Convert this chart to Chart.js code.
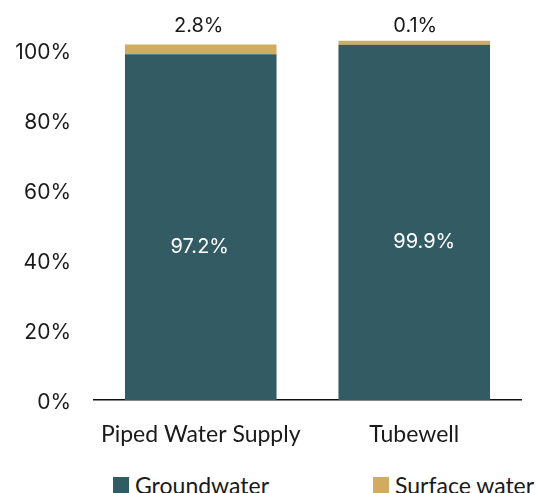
<!DOCTYPE html>
<html>
<head>
<meta charset="utf-8">
<script src="https://cdn.jsdelivr.net/npm/chart.js@4"></script>
<style>
  body { margin: 0; background: #fff; }
  #wrap { position: relative; width: 537px; height: 493px; }
  #box { position: absolute; left: 0; top: 0; width: 537px; height: 462px; }
  #legend {
    position: absolute; left: 113px; top: 473px; height: 24px;
    display: flex; align-items: center; gap: 104px;
    font-family: Lato, sans-serif; font-size: 23px; color: #1a1a1a;
  }
  #legend .item { display: flex; align-items: center; gap: 6px; line-height: 24px; }
  #legend .swatch { width: 16px; height: 16px; display: inline-block; }
</style>
</head>
<body>
<div id="wrap">
  <div id="box"><canvas id="chart"></canvas></div>
  <div id="legend"></div>
</div>
<script>
// water source by supply type (percent)
const sources = ['Piped Water Supply', 'Tubewell'];
const groundwater = [97.2, 99.9];
const surfaceWater = [2.8, 0.1];
const yTicks = [0, 20, 40, 60, 80, 100];

const seriesNames = ['Groundwater', 'Surface water'];
const seriesColors = ['#325B63', '#D1AB5E'];

const numFont = { family: 'Inter, "Open Sans", sans-serif', size: 20 };
const tickFont = { family: 'Inter, "Open Sans", sans-serif', size: 21 };
const textFont = { family: 'Lato, sans-serif', size: 23 };

const pct = v => v.toFixed(1) + '%';

// value labels: groundwater inside the bar, surface water above the stack
const valueLabels = {
    id: 'valueLabels',
    afterDatasetsDraw(chart, args, opts) {
        const { ctx } = chart;
        const yScale = chart.scales.y;
        ctx.save();
        ctx.font = `${numFont.size}px ${numFont.family}`;
        ctx.textAlign = 'center';
        ctx.textBaseline = 'middle';

        chart.getDatasetMeta(0).data.forEach((bar, i) => {
            const mid = (bar.y + bar.base) / 2;
            ctx.fillStyle = '#ffffff';
            ctx.fillText(pct(groundwater[i]), bar.x + opts.innerNudge[i], mid + opts.innerDrop);
        });

        chart.getDatasetMeta(1).data.forEach((bar, i) => {
            const top = yScale.getPixelForValue(groundwater[i] + surfaceWater[i]);
            ctx.fillStyle = '#1a1a1a';
            ctx.fillText(pct(surfaceWater[i]), bar.x + opts.topNudge[i], top - opts.topGap);
        });
        ctx.restore();
    }
};

const chart = new Chart(document.getElementById('chart'), {
    type: 'bar',
    data: {
        labels: sources,
        datasets: [
            {
                label: seriesNames[0],
                data: groundwater,
                backgroundColor: seriesColors[0],
                yAxisID: 'y'
            },
            {
                label: seriesNames[1],
                data: surfaceWater,
                backgroundColor: seriesColors[1],
                minBarLength: 4,
                yAxisID: 'y'
            }
        ]
    },
    options: {
        responsive: true,
        maintainAspectRatio: false,
        animation: false,
        layout: { padding: { top: 30, right: 16, bottom: 0, left: 0 } },
        datasets: {
            bar: { categoryPercentage: 1, barPercentage: 0.71 }
        },
        plugins: {
            legend: { display: false },
            tooltip: { enabled: false },
            valueLabels: {
                innerNudge: [-1, 10],
                innerDrop: 20,
                topNudge: [-2, 1],
                topGap: 18
            }
        },
        scales: {
            x: {
                stacked: true,
                grid: { display: false, drawTicks: false },
                border: { display: true, color: '#111', width: 1.5 },
                ticks: { color: '#1a1a1a', font: textFont, padding: 21 },
                afterFit(scale) { scale.height = 62; }
            },
            // bar scale
            y: {
                stacked: true,
                display: false,
                min: 0,
                max: 104.05
            },
            // percentage axis labels
            yL: {
                position: 'left',
                min: 0,
                max: 105.71,
                afterBuildTicks(scale) { scale.ticks = yTicks.map(v => ({ value: v })); },
                grid: { display: false, drawTicks: false },
                border: { display: false },
                ticks: {
                    color: '#1a1a1a',
                    font: tickFont,
                    padding: 23,
                    labelOffset: 3,
                    callback: v => v + '%'
                },
                afterFit(scale) {
                    scale.width = 94;
                    scale.paddingTop = 0;
                    scale.paddingBottom = 0;
                }
            }
        }
    },
    plugins: [valueLabels]
});

// legend row under the chart
const legendEl = document.getElementById('legend');
chart.data.datasets.forEach(ds => {
    const item = document.createElement('span');
    item.className = 'item';
    const sw = document.createElement('span');
    sw.className = 'swatch';
    sw.style.background = ds.backgroundColor;
    const txt = document.createElement('span');
    txt.textContent = ds.label;
    item.appendChild(sw);
    item.appendChild(txt);
    legendEl.appendChild(item);
});
</script>
</body>
</html>
